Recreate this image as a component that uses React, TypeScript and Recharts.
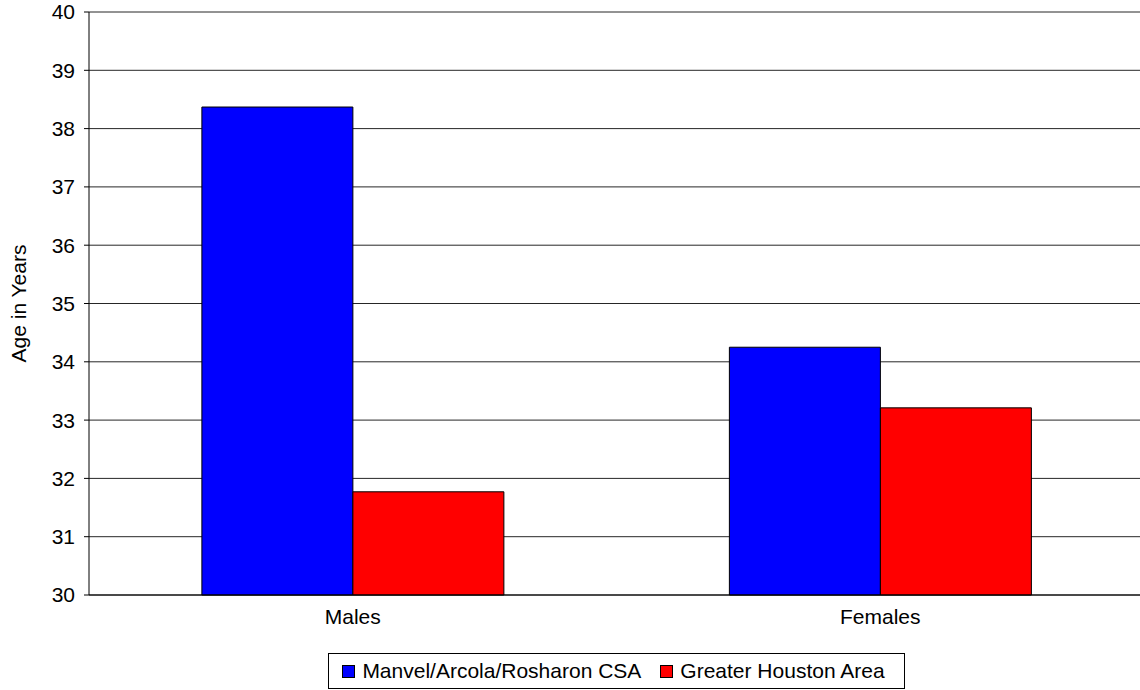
import { Bar, BarChart, CartesianGrid, Legend, XAxis, YAxis } from "recharts";

const categories = ["Males", "Females"];
const manvelAges = [38.37, 34.25];
const houstonAges = [31.77, 33.21];
const yTicks = [30, 31, 32, 33, 34, 35, 36, 37, 38, 39, 40];

const SERIES = [
  { key: "manvel", name: "Manvel/Arcola/Rosharon CSA", color: "#0000ff" },
  { key: "houston", name: "Greater Houston Area", color: "#ff0000" },
];

const chartData = categories.map((cat, i) => ({
  category: cat,
  manvel: manvelAges[i],
  houston: houstonAges[i],
}));

const FONT = "'Liberation Sans', Arial, sans-serif";
const FS = 21;

// plot area runs a little past the right edge of the picture, like the original
const CHART_W = 1157;
const LEFT = 89;
const RIGHT = 13;

const LegendBox = () => (
  <div style={{ marginLeft: LEFT, width: CHART_W - LEFT - RIGHT, display: "flex", justifyContent: "center" }}>
    <div
      style={{
        display: "flex",
        alignItems: "center",
        border: "1px solid #000",
        height: 34,
        padding: "0 19px 0 13px",
        fontFamily: FONT,
        fontSize: FS,
        color: "#000",
        gap: 19,
        whiteSpace: "nowrap",
      }}
    >
      {SERIES.map((s) => (
        <div key={s.key} style={{ display: "flex", alignItems: "center" }}>
          <span
            style={{
              display: "inline-block",
              width: 11,
              height: 11,
              background: s.color,
              border: "1px solid #000",
              marginRight: 7,
            }}
          />
          {s.name}
        </div>
      ))}
    </div>
  </div>
);

export default function App() {
  return (
    <div
      style={{
        position: "absolute",
        left: 0,
        top: 0,
        width: 1140,
        height: 690,
        overflow: "hidden",
        background: "#fff",
      }}
    >
      <BarChart
        width={CHART_W}
        height={690}
        data={chartData}
        margin={{ top: 12, right: RIGHT, bottom: 0, left: 0 }}
        barCategoryGap="21.4%"
        barGap={0}
      >
        <CartesianGrid vertical={false} stroke="#000" strokeOpacity={0.85} />
        <XAxis
          dataKey="category"
          height={58}
          tickLine={false}
          tickSize={5}
          tickMargin={9}
          axisLine={{ stroke: "#000" }}
          fontSize={FS}
          fontFamily={FONT}
          tick={{ fill: "#000", fontSize: FS, fontFamily: FONT }}
        />
        <XAxis
          xAxisId="bounds"
          type="number"
          domain={[0, 2]}
          ticks={[0, 1]}
          height={0}
          axisLine={false}
          tick={false}
          tickLine={{ stroke: "#000" }}
          tickSize={5}
        />
        <YAxis
          domain={[30, 40]}
          ticks={yTicks}
          interval={0}
          width={LEFT}
          tickSize={5}
          tickMargin={9}
          axisLine={{ stroke: "#000" }}
          tickLine={{ stroke: "#000" }}
          fontSize={FS}
          fontFamily={FONT}
          tick={{ fill: "#000", fontSize: FS, fontFamily: FONT }}
          label={{
            value: "Age in Years",
            angle: -90,
            position: "insideLeft",
            dx: 14,
            style: { textAnchor: "middle", fill: "#000", fontSize: FS, fontFamily: FONT },
          }}
        />
        <Legend
          verticalAlign="bottom"
          height={37}
          wrapperStyle={{ left: 0, width: CHART_W }}
          content={() => <LegendBox />}
        />
        {SERIES.map((s) => (
          <Bar
            key={s.key}
            dataKey={s.key}
            name={s.name}
            fill={s.color}
            stroke="#000"
            strokeWidth={1}
            isAnimationActive={false}
          />
        ))}
      </BarChart>
    </div>
  );
}
